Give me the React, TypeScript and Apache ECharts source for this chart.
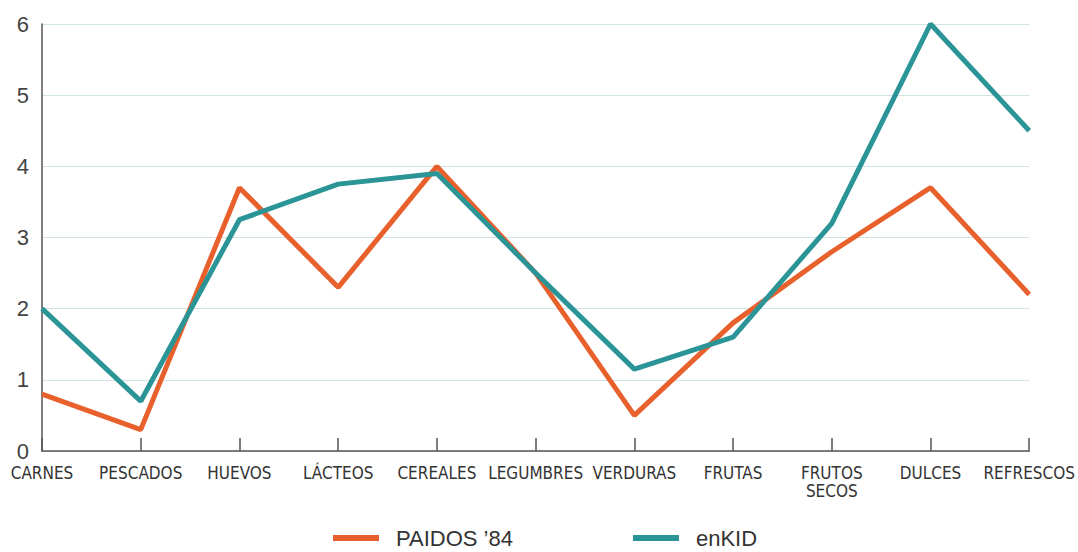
import React, { useEffect, useRef } from "react";
import * as echarts from "echarts";

const categories = [
  "CARNES",
  "PESCADOS",
  "HUEVOS",
  "LÁCTEOS",
  "CEREALES",
  "LEGUMBRES",
  "VERDURAS",
  "FRUTAS",
  "FRUTOS\nSECOS",
  "DULCES",
  "REFRESCOS",
];

const paidos84 = [0.8, 0.3, 3.7, 2.3, 4.0, 2.5, 0.5, 1.8, 2.8, 3.7, 2.2];
const enkid = [2.0, 0.7, 3.25, 3.75, 3.9, 2.5, 1.15, 1.6, 3.2, 6.0, 4.5];

const ORANGE = "#e8602c";
const TEAL = "#2a9496";
const LABEL_FONT = "'Liberation Sans Narrow', 'DejaVu Sans Condensed', 'Roboto', sans-serif";
const PLAIN_FONT = "'Liberation Sans', Arial, sans-serif";

export default function App() {
  const ref = useRef<HTMLDivElement>(null);

  useEffect(() => {
    if (!ref.current) return;
    const chart = echarts.init(ref.current, undefined, { renderer: "svg" });
    chart.setOption({
      animation: false,
      backgroundColor: "#ffffff",
      grid: { left: 42, right: 47, top: 24, bottom: 101, containLabel: false },
      legend: {
        left: 333,
        top: 527,
        padding: 0,
        itemWidth: 46,
        itemHeight: 6,
        itemGap: 120,
        icon: "rect",
        textStyle: {
          fontSize: 22,
          color: "#333",
          fontFamily: PLAIN_FONT,
          padding: [0, 0, 0, 12],
        },
        data: ["PAIDOS ’84", "enKID"],
      },
      xAxis: {
        type: "category",
        data: categories,
        boundaryGap: false,
        axisLine: { lineStyle: { color: "#555", width: 1.5 } },
        axisTick: {
          show: true,
          inside: true,
          length: 13,
          lineStyle: { color: "#555", width: 1.5 },
        },
        axisLabel: {
          color: "#333",
          fontSize: 17,
          fontFamily: LABEL_FONT,
          margin: 13,
          lineHeight: 18,
          interval: 0,
        },
        splitLine: { show: false },
      },
      yAxis: {
        type: "value",
        min: 0,
        max: 6,
        interval: 1,
        axisLine: { show: true, lineStyle: { color: "#555", width: 1.5 } },
        axisTick: { show: false },
        axisLabel: {
          color: "#444",
          fontSize: 22,
          fontFamily: PLAIN_FONT,
          margin: 13,
        },
        splitLine: { lineStyle: { color: "#cfe2e4", width: 1.2 } },
      },
      series: [
        {
          name: "PAIDOS ’84",
          type: "line",
          data: paidos84,
          symbol: "none",
          color: ORANGE,
          lineStyle: { color: ORANGE, width: 5 },
        },
        {
          name: "enKID",
          type: "line",
          data: enkid,
          symbol: "none",
          color: TEAL,
          lineStyle: { color: TEAL, width: 5 },
        },
      ],
    });
    return () => chart.dispose();
  }, []);

  return <div ref={ref} style={{ width: 1078, height: 552, position: "absolute", left: 0, top: 0 }} />;
}
